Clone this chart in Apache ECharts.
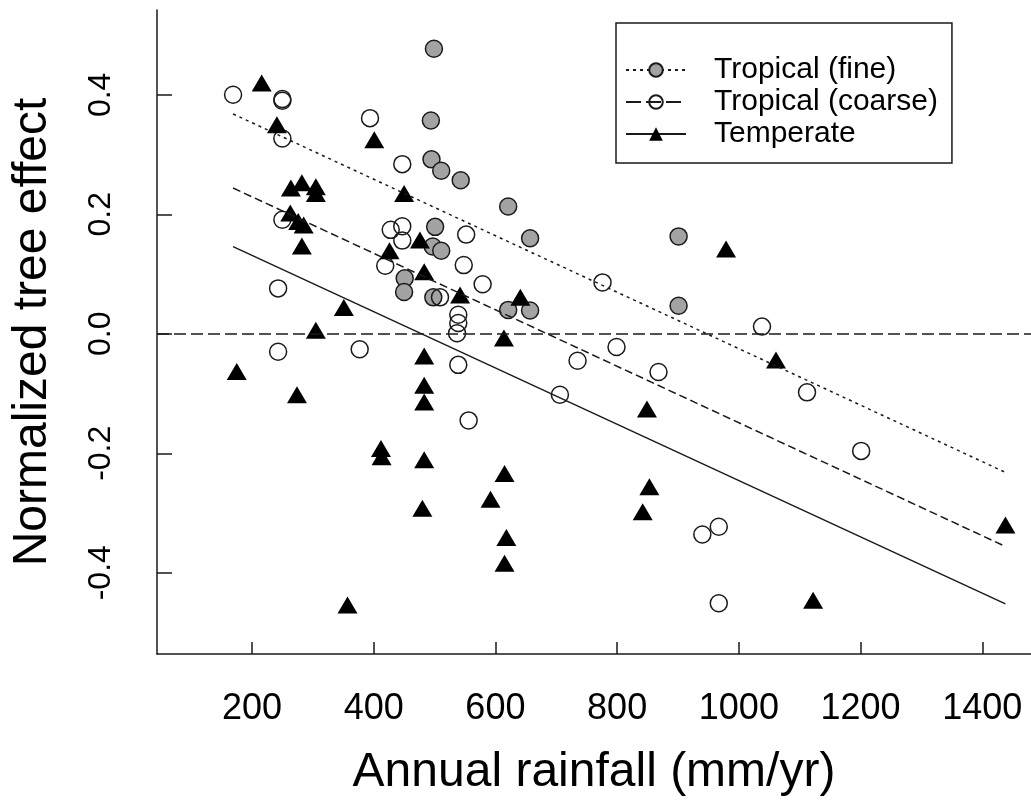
<!DOCTYPE html>
<html>
<head>
<meta charset="utf-8">
<script src="https://cdn.jsdelivr.net/npm/echarts@6/dist/echarts.min.js"></script>
<style>
  html, body { margin: 0; padding: 0; background: #fff; }
  #chart { width: 1031px; height: 804px; }
</style>
</head>
<body>
<div id="chart"></div>
<script>
// tick positions
const xTicks = [200, 400, 600, 800, 1000, 1200, 1400];
const yTicks = [-0.4, -0.2, 0, 0.2, 0.4];

// Tropical (fine) - grey filled circles
const fineX = [499, 494, 495, 511, 543, 501, 497, 511, 451, 450, 498, 621, 657, 901, 901, 621, 657];
const fineY = [0.477, 0.357, 0.292, 0.273, 0.257, 0.179, 0.146, 0.139, 0.093, 0.070, 0.061, 0.213, 0.160, 0.163, 0.047, 0.040, 0.039];

// Tropical (coarse) - open circles
const coarseX = [169, 250, 250, 250, 394, 447, 250, 428, 447, 447, 419, 243, 509, 243, 377, 537, 539, 539, 799, 735, 539, 868, 706, 556, 940, 967, 967, 552, 548, 579, 776, 1038, 1112, 1201];
const coarseY = [0.400, 0.393, 0.390, 0.327, 0.361, 0.284, 0.191, 0.174, 0.180, 0.156, 0.114, 0.076, 0.061, -0.030, -0.026, 0.001, 0.018, 0.032, -0.022, -0.045, -0.052, -0.064, -0.102, -0.145, -0.336, -0.323, -0.451, 0.166, 0.115, 0.083, 0.086, 0.012, -0.098, -0.196];

// Temperate - filled triangles
const tempX = [216, 241, 401, 264, 282, 305, 305, 450, 263, 276, 285, 282, 426, 483, 476, 351, 305, 175, 274, 483, 483, 483, 412, 413, 483, 480, 357, 614, 849, 615, 592, 853, 842, 618, 615, 542, 641, 979, 1061, 1438, 1122];
const tempY = [0.420, 0.350, 0.325, 0.244, 0.253, 0.246, 0.235, 0.235, 0.202, 0.188, 0.182, 0.147, 0.139, 0.104, 0.157, 0.044, 0.006, -0.063, -0.102, -0.037, -0.086, -0.114, -0.192, -0.206, -0.211, -0.292, -0.454, -0.007, -0.126, -0.234, -0.277, -0.256, -0.298, -0.341, -0.384, 0.065, 0.061, 0.142, -0.044, -0.320, -0.446];

// fitted lines (end points)
const fitX = [169, 1438];
const fitFine = [0.368, -0.232];
const fitCoarse = [0.244, -0.356];
const fitTemp = [0.146, -0.452];

const FONT = '"Liberation Sans", Arial, sans-serif';
const INK = '#1a1a1a';

const pairs = (xs, ys) => xs.map((x, i) => [x, ys[i]]);

const chart = echarts.init(document.getElementById('chart'));
chart.setOption({
  animation: false,
  backgroundColor: '#fff',
  textStyle: { fontFamily: FONT, color: '#000' },
  grid: { left: 157, right: 0, top: 10, bottom: 150, containLabel: false },
  legend: {
    left: 616,
    top: 23,
    orient: 'vertical',
    data: [
      { name: 'Tropical (fine)' },
      { name: 'Tropical (coarse)', lineStyle: { type: [15, 5] } },
      { name: 'Temperate' }
    ],
    itemWidth: 60,
    itemHeight: 17,
    itemGap: 0,
    padding: [31, 14, 13, 9],
    borderColor: INK,
    borderWidth: 1.5,
    textStyle: { fontSize: 30, color: '#000', fontFamily: FONT, lineHeight: 32, padding: [0, 0, 0, 23] },
    selectedMode: false
  },
  xAxis: {
    type: 'value',
    min: 44,
    max: 1480,
    axisLine: { show: true, onZero: false, lineStyle: { color: INK, width: 1.5 } },
    axisTick: { show: true, inside: true, length: 12, customValues: xTicks, lineStyle: { color: INK, width: 1.5 } },
    axisLabel: { customValues: xTicks, fontSize: 36, color: '#000', margin: 37, fontFamily: FONT, formatter: v => String(v) },
    splitLine: { show: false },
    name: 'Annual rainfall (mm/yr)',
    nameLocation: 'middle',
    nameGap: 95,
    nameTextStyle: { fontSize: 48, color: '#000', fontFamily: FONT }
  },
  yAxis: {
    type: 'value',
    min: -0.536,
    max: 0.542,
    axisLine: { show: true, onZero: false, lineStyle: { color: INK, width: 1.5 } },
    axisTick: { show: true, inside: true, length: 15, customValues: yTicks, lineStyle: { color: INK, width: 1.5 } },
    axisLabel: {
      customValues: yTicks, rotate: 90, fontSize: 32, color: '#000', margin: 40, fontFamily: FONT,
      formatter: v => v.toFixed(1)
    },
    splitLine: { show: false },
    name: 'Normalized tree effect',
    nameLocation: 'middle',
    nameRotate: 90,
    nameGap: 100,
    nameTextStyle: { fontSize: 48, color: '#000', fontFamily: FONT }
  },
  series: [
    {
      name: 'Tropical (fine)', type: 'line', z: 3,
      data: pairs(fitX, fitFine),
      symbol: 'circle', showSymbol: false,
      itemStyle: { color: '#a3a3a3', borderColor: INK, borderWidth: 1.5 },
      lineStyle: { color: INK, width: 1.5, type: [3, 4] }
    },
    {
      name: 'Tropical (coarse)', type: 'line', z: 3,
      data: pairs(fitX, fitCoarse),
      symbol: 'circle', showSymbol: false,
      itemStyle: { color: 'rgba(255,255,255,0)', borderColor: INK, borderWidth: 1.5 },
      lineStyle: { color: INK, width: 1.5, type: [8, 4] }
    },
    {
      name: 'Temperate', type: 'line', z: 3,
      data: pairs(fitX, fitTemp),
      symbol: 'triangle', showSymbol: false,
      itemStyle: { color: '#000', borderColor: '#000', borderWidth: 0 },
      lineStyle: { color: INK, width: 1.5, type: 'solid' },
      markLine: {
        silent: true, symbol: 'none', label: { show: false },
        lineStyle: { color: INK, width: 1.5, type: [12, 5] },
        data: [{ yAxis: 0 }]
      }
    },
    {
      name: 'Tropical (fine)', type: 'scatter', z: 2,
      data: pairs(fineX, fineY),
      symbol: 'circle', symbolSize: 17,
      itemStyle: { color: '#a3a3a3', borderColor: INK, borderWidth: 1.5, opacity: 1 }
    },
    {
      name: 'Tropical (coarse)', type: 'scatter', z: 2,
      data: pairs(coarseX, coarseY),
      symbol: 'circle', symbolSize: 17,
      itemStyle: { color: 'rgba(255,255,255,0)', borderColor: INK, borderWidth: 1.5, opacity: 1 }
    },
    {
      name: 'Temperate', type: 'scatter', z: 2,
      data: pairs(tempX, tempY),
      symbol: 'triangle', symbolSize: [20, 17],
      itemStyle: { color: '#000', opacity: 1 }
    }
  ]
});
</script>
</body>
</html>
